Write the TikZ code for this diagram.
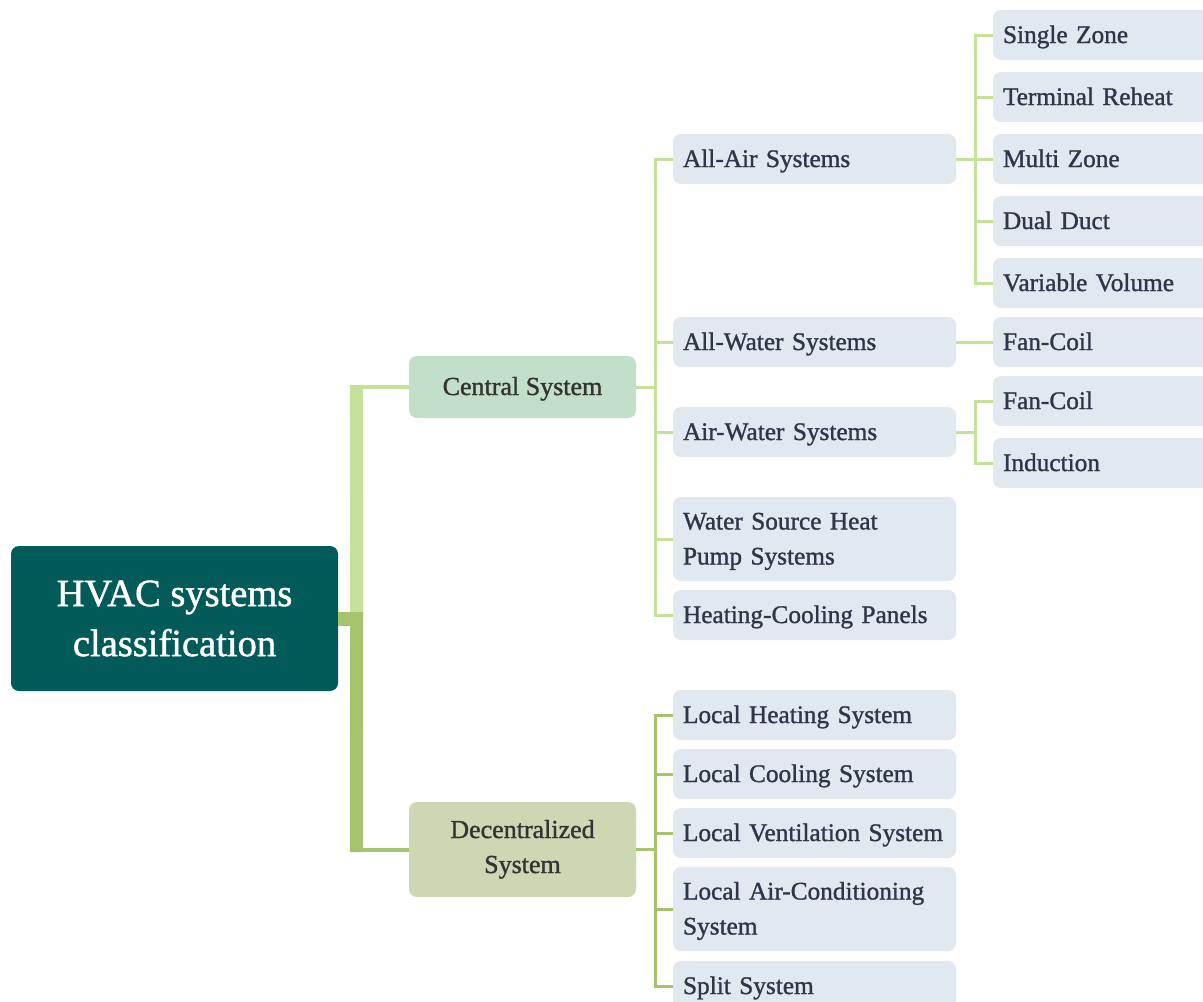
\documentclass[tikz,border=0pt]{standalone}
\usepackage{fontspec}
\setmainfont{Liberation Serif}[FakeBold=1.2]
\usetikzlibrary{calc}
\definecolor{rootc}{HTML}{035B59}
\definecolor{centc}{HTML}{C2DFCA}
\definecolor{decc}{HTML}{CED7B4}
\definecolor{lightg}{HTML}{C5E29A}
\definecolor{darkg}{HTML}{A6C46B}
\definecolor{boxc}{HTML}{E2E8F0}
\definecolor{txtc}{HTML}{2D3748}
\definecolor{midtxt}{HTML}{333333}
\newcommand\topstrut{\rule{0pt}{22pt}}
\newcommand\botstrut{\rule[-6pt]{0pt}{6pt}}
\begin{document}
\begin{tikzpicture}[x=1pt,y=-1pt,
  rootbox/.style={fill=rootc, rounded corners=8pt, minimum width=327pt, minimum height=145pt,
    text=white, align=center, font=\fontsize{38.5}{50}\selectfont, inner sep=0pt},
  catbox/.style={fill=#1, rounded corners=8pt, minimum width=227pt, text=midtxt, align=center,
    font=\fontsize{26}{35}\selectfont, inner sep=0pt,
    execute at begin node=\topstrut, execute at end node=\botstrut},
  leaf/.style={fill=boxc, rounded corners=8pt, text width=263pt, inner xsep=10pt, inner ysep=0pt,
    minimum height=50pt, align=left, text=txtc, font=\fontsize{25.3}{35}\selectfont,
    execute at begin node=\topstrut, execute at end node=\botstrut},
  gleaf/.style={leaf, text width=202pt},
  thin/.style={line width=3pt},
]
\useasboundingbox (0,0) rectangle (1203,1002);
\fill[white] (0,0) rectangle (1203,1002);

% nodes
\node[rootbox] (root) at (174.5,618.5) {HVAC systems\\classification};
\node[catbox=centc, minimum height=62pt] (central) at (522.5,387) {Central System};
\node[catbox=decc, minimum height=95pt] (decentral) at (522.5,849.5) {Decentralized\\System};

\node[leaf] (aa)   at (814.5,159) {All-Air Systems};
\node[leaf] (aw)   at (814.5,342) {All-Water Systems};
\node[leaf] (awt)  at (814.5,432) {Air-Water Systems};
\node[leaf, minimum height=84pt] (wshp) at (814.5,539) {Water Source Heat\\Pump Systems};
\node[leaf] (hcp)  at (814.5,615) {Heating-Cooling Panels};

\node[leaf] (lh)  at (814.5,715) {Local Heating System};
\node[leaf] (lc)  at (814.5,774) {Local Cooling System};
\node[leaf] (lv)  at (814.5,833) {Local Ventilation System};
\node[leaf, minimum height=84pt] (lac) at (814.5,909) {Local Air-Conditioning\\System};
\node[leaf] (ss)  at (814.5,986) {Split System};

\node[gleaf] (sz)  at (1104,35)  {Single Zone};
\node[gleaf] (tr)  at (1104,97)  {Terminal Reheat};
\node[gleaf] (mz)  at (1104,159) {Multi Zone};
\node[gleaf] (dd)  at (1104,221) {Dual Duct};
\node[gleaf] (vv)  at (1104,283) {Variable Volume};
\node[gleaf] (fc1) at (1104,342) {Fan-Coil};
\node[gleaf] (fc2) at (1104,401) {Fan-Coil};
\node[gleaf] (ind) at (1104,463) {Induction};

% root connectors
\draw[lightg, line width=13pt] ($(central.west)+(-52.5,-2)$) -- ($(root.east)+(18.5,-6.5)$);
\draw[lightg, line width=4pt] (central.west) -- ++(-59,0);
\draw[darkg, line width=13pt] ($(root.east)+(18.5,-6.5)$) -- ($(decentral.west)+(-52.5,2.5)$);
\draw[darkg, line width=4pt] (decentral.west) -- ++(-59,0);
\draw[darkg, line width=14pt] (root.east) -- ++(25,0);

% central children
\draw[lightg, thin] (central.east) -- ++(19,0) coordinate (ct);
\foreach \n in {aa,aw,awt,wshp,hcp} \draw[lightg, thin] (ct) |- (\n.west);

% decentral children
\draw[darkg, thin] (decentral.east) -- ++(19,0) coordinate (dt);
\foreach \n in {lh,lc,lv,lac,ss} \draw[darkg, thin] (dt) |- (\n.west);

% grandchildren
\draw[lightg, thin] (aa.east) -- ++(19,0) coordinate (ga);
\foreach \n in {sz,tr,mz,dd,vv} \draw[lightg, thin] (ga) |- (\n.west);
\draw[lightg, thin] (aw.east) -- (fc1.west);
\draw[lightg, thin] (awt.east) -- ++(19,0) coordinate (gw);
\foreach \n in {fc2,ind} \draw[lightg, thin] (gw) |- (\n.west);
\end{tikzpicture}
\end{document}
